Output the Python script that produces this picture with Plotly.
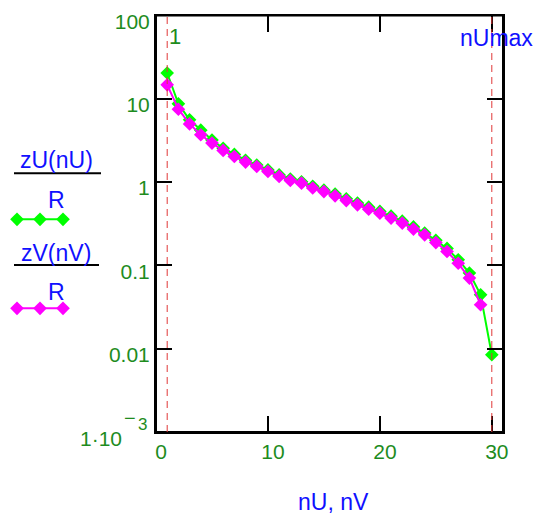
import plotly.graph_objects as go

nU = list(range(1, 31))
zU_R = [20.4, 8.7, 5.6, 4.2, 3.2, 2.55, 2.15, 1.83, 1.6, 1.4,
        1.22, 1.09, 1.01, 0.89, 0.80, 0.72, 0.63, 0.56, 0.50, 0.445,
        0.39, 0.34, 0.29, 0.245, 0.20, 0.16, 0.117, 0.081, 0.0443, 0.00846]
nV = list(range(1, 30))
zV_R = [14.7, 7.5, 5.0, 3.7, 2.94, 2.4, 2.03, 1.74, 1.54, 1.34,
        1.17, 1.045, 0.97, 0.85, 0.77, 0.684, 0.60, 0.533, 0.473, 0.424,
        0.37, 0.322, 0.273, 0.233, 0.188, 0.147, 0.106, 0.0705, 0.0337]
x_ticks = [0, 10, 20, 30]
x_ticktext = ["0", "10", "20", "30"]
y_ticks = [1e-3, 0.01, 0.1, 1, 10, 100]
y_ticktext = ["", "0.01", "0.1", "1", "10", "100"]
markers_x = [1, 30]
marker_labels = ["1", "nUmax"]

W, H = 537, 514
GREEN = "#00ff00"
MAG = "#ff00ff"
TXTG = "#1e8c1e"
BLUE = "#1010ff"
FONT = "Liberation Sans"
NUMFONT = "Liberation Sans"
LEGW = 120  # pixel width of the legend strip subplot

def px(x):
    return x / W

def py(y):
    return 1 - y / H

fig = go.Figure()
fig.add_trace(go.Scatter(x=nU, y=zU_R, mode="lines+markers",
                         line=dict(color=GREEN, width=2),
                         marker=dict(symbol="diamond", size=10.5, color=GREEN),
                         xaxis="x", yaxis="y", showlegend=False))
fig.add_trace(go.Scatter(x=nV, y=zV_R, mode="lines+markers",
                         line=dict(color=MAG, width=2),
                         marker=dict(symbol="diamond", size=10.5, color=MAG),
                         xaxis="x", yaxis="y", showlegend=False))

# legend samples on an auxiliary pixel-like axis
fig.add_trace(go.Scatter(x=[17, 40, 63], y=[219.3] * 3, mode="lines+markers",
                         line=dict(color=GREEN, width=2),
                         marker=dict(symbol="diamond", size=10.5, color=GREEN),
                         xaxis="x2", yaxis="y2", showlegend=False))
fig.add_trace(go.Scatter(x=[17, 40, 63], y=[308.3] * 3, mode="lines+markers",
                         line=dict(color=MAG, width=2),
                         marker=dict(symbol="diamond", size=10.5, color=MAG),
                         xaxis="x2", yaxis="y2", showlegend=False))

x0, x1 = 156, 503
y0, y1 = 15.5, 432
fig.update_layout(
    template="none",
    width=W, height=H, margin=dict(l=0, r=0, t=0, b=0),
    paper_bgcolor="white", plot_bgcolor="rgba(0,0,0,0)",
    font=dict(family=FONT, size=19, color=TXTG),
    xaxis=dict(domain=[px(x0), px(x1)], range=[0, 31], tickvals=x_ticks,
               ticktext=x_ticktext, ticklabelshift=5,
               ticks="inside", ticklen=16, tickwidth=2, tickcolor="black",
               showline=True, linecolor="black", linewidth=2, mirror="ticks",
               showgrid=False, zeroline=False, automargin=False,
               tickfont=dict(family=NUMFONT, size=21, color=TXTG)),
    yaxis=dict(domain=[py(y1), py(y0)], type="log", range=[-3, 2],
               tickvals=y_ticks, ticktext=y_ticktext,
               ticks="inside", ticklen=16, tickwidth=2, tickcolor="black",
               showline=True, linecolor="black", linewidth=2, mirror="ticks",
               showgrid=False, zeroline=False, ticklabelshift=6,
               automargin=False,
               tickfont=dict(family=NUMFONT, size=21, color=TXTG)),
    xaxis2=dict(domain=[0, px(LEGW)], range=[0, LEGW], visible=False,
                fixedrange=True, anchor="y2", automargin=False),
    yaxis2=dict(domain=[0, 1], range=[H, 0], visible=False, fixedrange=True,
                anchor="x2", automargin=False),
)

shapes = []
# plot frame
shapes.append(dict(type="rect", xref="paper", yref="paper",
                   x0=px(x0), x1=px(x1), y0=py(y1), y1=py(y0),
                   line=dict(color="black", width=2), layer="above"))
for mx in markers_x:
    shapes.append(dict(type="line", xref="x", yref="paper", x0=mx, x1=mx,
                       y0=py(y1), y1=py(y0),
                       line=dict(color="#e03838", width=1, dash="7px,5px")))
# legend fraction bars
for yy, xe in [(173.3, 101), (265, 99)]:
    shapes.append(dict(type="line", xref="paper", yref="paper",
                       x0=px(14), x1=px(xe), y0=py(yy), y1=py(yy),
                       line=dict(color="black", width=2)))
fig.update_layout(shapes=shapes)

ann = []
ann.append(dict(x=1, y=py(37), xref="x", yref="paper", text=marker_labels[0],
                showarrow=False, xanchor="left", yanchor="middle", xshift=0,
                font=dict(family=NUMFONT, size=22, color=TXTG)))
ann.append(dict(x=px(535), y=py(38), xref="paper", yref="paper",
                text=marker_labels[1], showarrow=False, xanchor="right",
                yanchor="middle", font=dict(family=FONT, size=23, color=BLUE)))
for txt, xc, yc in [("zU(nU)", 56, 160), ("R", 56, 200),
                    ("zV(nV)", 56, 253), ("R", 56, 292)]:
    ann.append(dict(x=px(xc), y=py(yc), xref="paper", yref="paper", text=txt,
                    showarrow=False, xanchor="center", yanchor="middle",
                    font=dict(family=FONT, size=23, color=BLUE)))
ann.append(dict(x=px(333), y=py(502), xref="paper", yref="paper",
                text="nU, nV", showarrow=False, xanchor="center",
                yanchor="middle", font=dict(family=FONT, size=23, color=BLUE)))
# 1e-3 tick label
ann.append(dict(x=px(124), y=py(438), xref="paper", yref="paper",
                text="1·10", showarrow=False, xanchor="right",
                yanchor="middle", font=dict(family=NUMFONT, size=21, color=TXTG)))
ann.append(dict(x=px(122), y=py(418), xref="paper", yref="paper",
                text="−", showarrow=False, xanchor="left", yanchor="middle",
                font=dict(family=FONT, size=20, color=TXTG)))
ann.append(dict(x=px(136), y=py(424), xref="paper", yref="paper",
                text="3", showarrow=False, xanchor="left", yanchor="middle",
                font=dict(family=NUMFONT, size=17, color=TXTG)))
fig.update_layout(annotations=ann)

fig.write_html("out.html")
